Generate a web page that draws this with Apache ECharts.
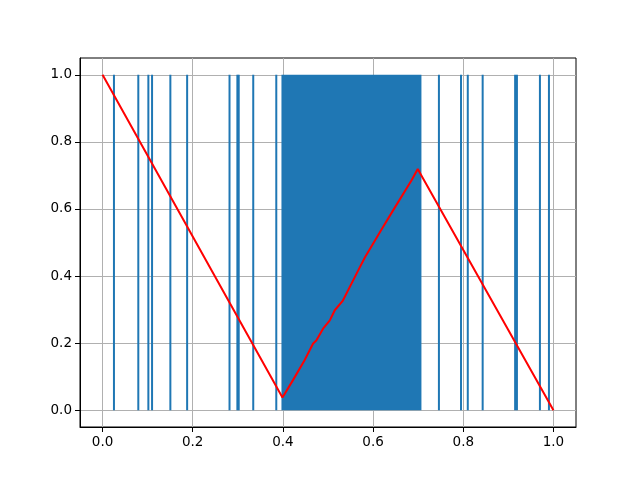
<!DOCTYPE html>
<html>
<head>
<meta charset="utf-8">
<script src="https://cdn.jsdelivr.net/npm/echarts@6/dist/echarts.min.js"></script>
<style>html,body{margin:0;padding:0;background:#fff}#c{width:640px;height:480px}</style>
</head>
<body>
<div id="c"></div>
<script>
const xTicks = [0, 0.2, 0.4, 0.6, 0.8, 1.0];
const yTicks = [0, 0.2, 0.4, 0.6, 0.8, 1.0];
const eventX = [0.0253, 0.0793, 0.1016, 0.1098, 0.1504, 0.1876, 0.2816, 0.2990, 0.3020, 0.3342, 0.3853,
                0.746, 0.795, 0.810, 0.843, 0.915, 0.919, 0.970, 0.990];
const denseStart = 0.399;
const denseEnd = 0.705;
const eventLow = 0;
const eventHigh = 1;
const redX = [0, 0.399, 0.422, 0.448, 0.467, 0.474, 0.489, 0.504, 0.515, 0.533, 0.567, 0.582, 0.622, 0.644, 0.685, 0.699, 1.0];
const redY = [1, 0.038, 0.089, 0.149, 0.199, 0.208, 0.243, 0.268, 0.298, 0.327, 0.417, 0.456, 0.546, 0.595, 0.685, 0.719, 0];

const font = 'DejaVu Sans';
const chart = echarts.init(document.getElementById('c'), null, {renderer: 'canvas'});
const axisCommon = (ticks) => ({
  type: 'value', min: -0.05, max: 1.05,
  axisLine: {show: true, onZero: false, lineStyle: {color: '#000', width: 1}},
  axisTick: {show: true, inside: false, length: 5, customValues: ticks, lineStyle: {color: '#000', width: 1}},
  axisLabel: {show: true, customValues: ticks, formatter: v => v.toFixed(1), color: '#000', fontFamily: font, fontSize: 13.5},
  splitLine: {show: true, lineStyle: {color: '#b0b0b0', width: 1}}
});
const xA = axisCommon(xTicks); xA.axisLabel.margin = 8;
const yA = axisCommon(yTicks); yA.axisLabel.margin = 8;

chart.setOption({
  animation: false,
  grid: {left: 80, right: 64, top: 58, bottom: 53, show: true, borderColor: '#000', borderWidth: 1, backgroundColor: 'transparent'},
  xAxis: xA,
  yAxis: yA,
  series: [
    {
      type: 'custom', z: 2,
      data: [[denseStart, denseEnd, eventLow, eventHigh]],
      encode: {x: [0, 1], y: [2, 3]},
      renderItem: (params, api) => {
        const p0 = api.coord([api.value(0), api.value(3)]);
        const p1 = api.coord([api.value(1), api.value(2)]);
        return {type: 'rect', shape: {x: p0[0] - 1, y: p0[1], width: p1[0] - p0[0] + 2, height: p1[1] - p0[1]}, style: {fill: '#1f77b4'}};
      }
    },
    {
      type: 'custom', z: 2,
      data: eventX.map(x => [x, eventLow, eventHigh]),
      encode: {x: 0, y: [1, 2]},
      renderItem: (params, api) => {
        const p0 = api.coord([api.value(0), api.value(1)]);
        const p1 = api.coord([api.value(0), api.value(2)]);
        return {type: 'line', shape: {x1: p0[0], y1: p0[1], x2: p1[0], y2: p1[1]}, style: {stroke: '#1f77b4', lineWidth: 2}};
      }
    },
    {
      type: 'line', z: 3,
      data: redX.map((x, i) => [x, redY[i]]),
      showSymbol: false, symbol: 'none',
      lineStyle: {color: '#ff0000', width: 2}
    }
  ]
});
</script>
</body>
</html>
